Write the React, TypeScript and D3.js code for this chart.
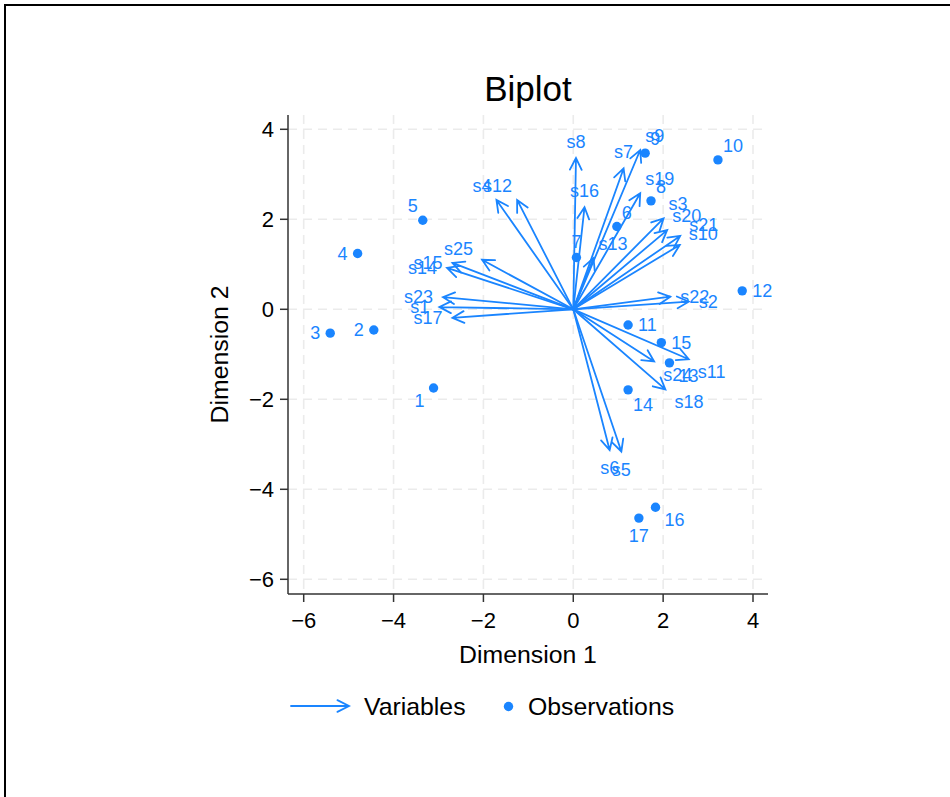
import React from "react";
import * as d3 from "d3";

// Observation scores (dimension 1, dimension 2)
const obsLabels = ["1", "2", "3", "4", "5", "6", "7", "8", "9", "10", "11", "12", "13", "14", "15", "16", "17"];
const obsX = [-3.11, -4.44, -5.41, -4.8, -3.35, 0.97, 0.07, 1.73, 1.6, 3.22, 1.22, 3.76, 2.14, 1.22, 1.96, 1.83, 1.46];
const obsY = [-1.75, -0.46, -0.53, 1.24, 1.98, 1.84, 1.15, 2.41, 3.47, 3.32, -0.35, 0.41, -1.19, -1.79, -0.74, -4.4, -4.64];

// Variable loadings (arrow tips)
const varNames = ["s1", "s2", "s3", "s4", "s5", "s6", "s7", "s8", "s9", "s10", "s11", "s12", "s13",
  "s14", "s15", "s16", "s17", "s18", "s19", "s20", "s21", "s22", "s23", "s24", "s25"];
const varX = [-2.98, 2.57, 2.01, -1.71, 1.07, 0.81, 1.12, 0.06, 1.49, 2.37, 2.57, -1.25, 0.45,
  -2.81, -2.69, 0.25, -2.69, 2.05, 1.49, 2.09, 2.38, 2.16, -2.9, 1.8, -2.03];
const varY = [0.05, 0.17, 2.02, 2.43, -3.16, -3.13, 3.13, 3.36, 3.54, 1.43, -1.11, 2.43, 1.14,
  0.92, 1.03, 2.27, -0.19, -1.78, 2.58, 1.76, 1.63, 0.28, 0.27, -1.16, 1.1];

const tickValues = [-6, -4, -2, 0, 2, 4];

// Clock positions of the marker labels
const obsLabelClock = [8, 9, 9, 9, 11, 1, 12, 1, 1, 1, 3, 3, 4, 5, 3, 4, 6];
const varLabelClock = [9, 3, 1, 11, 6, 6, 12, 12, 1, 2, 4, 11, 1, 9, 9, 12, 9, 4, 1, 1, 2, 3, 9, 4, 10];

const BLUE = "#1a85ff";
const FONT = "'Liberation Sans', Arial, Helvetica, sans-serif";

const clockOffsets: Record<number, [number, number, string]> = {
  12: [0, -16, "middle"],
  1: [5, -14, "start"],
  2: [9, -11, "start"],
  3: [10, 0, "start"],
  4: [9, 13, "start"],
  5: [5, 15, "start"],
  6: [0, 18, "middle"],
  7: [-5, 15, "end"],
  8: [-9, 13, "end"],
  9: [-10, 0, "end"],
  10: [-9, -11, "end"],
  11: [-5, -14, "end"],
};

function arrowPath(x0: number, y0: number, x1: number, y1: number, len = 13, half = 27) {
  const ang = Math.atan2(y1 - y0, x1 - x0);
  const h = (half * Math.PI) / 180;
  const ax = x1 - len * Math.cos(ang - h);
  const ay = y1 - len * Math.sin(ang - h);
  const bx = x1 - len * Math.cos(ang + h);
  const by = y1 - len * Math.sin(ang + h);
  return `M${x0},${y0}L${x1},${y1}M${ax},${ay}L${x1},${y1}L${bx},${by}`;
}

export default function App() {
  const left = 288;
  const right = 768;
  const top = 115;
  const bottom = 594;
  const x = d3.scaleLinear().domain([-6, 4]).range([303.7, 753]);
  const y = d3.scaleLinear().domain([-6, 4]).range([579.3, 129.3]);
  const ox = x(0);
  const oy = y(0);

  return (
    <svg
      width={950}
      height={797}
      style={{ position: "absolute", left: 0, top: 0, background: "#fff" }}
      fontFamily={FONT}
    >
      <rect x={0} y={0} width={950} height={797} fill="#fff" />
      {/* frame */}
      <line x1={4} x2={950} y1={5} y2={5} stroke="#000" strokeWidth={2} />
      <line x1={5} x2={5} y1={4} y2={797} stroke="#000" strokeWidth={2} />

      {/* grid */}
      <g stroke="#ebebeb" strokeWidth={1.6} strokeDasharray="9,6">
        {tickValues.map((t) => (
          <line key={"gx" + t} x1={x(t)} x2={x(t)} y1={top} y2={bottom} />
        ))}
        {tickValues.map((t) => (
          <line key={"gy" + t} x1={left} x2={right} y1={y(t)} y2={y(t)} />
        ))}
      </g>

      {/* axes */}
      <g stroke="#333" strokeWidth={1.5}>
        <line x1={left} x2={left} y1={top} y2={bottom} />
        <line x1={left} x2={right} y1={bottom} y2={bottom} />
        {tickValues.map((t) => (
          <line key={"tx" + t} x1={x(t)} x2={x(t)} y1={bottom} y2={bottom + 8} />
        ))}
        {tickValues.map((t) => (
          <line key={"ty" + t} x1={left - 8} x2={left} y1={y(t)} y2={y(t)} />
        ))}
      </g>
      <g fontSize={22} fill="#000">
        {tickValues.map((t) => (
          <text key={"lx" + t} x={x(t)} y={620} textAnchor="middle" dominantBaseline="central">
            {t < 0 ? "\u2212" + Math.abs(t) : String(t)}
          </text>
        ))}
        {tickValues.map((t) => (
          <text key={"ly" + t} x={left - 14} y={y(t)} textAnchor="end" dominantBaseline="central">
            {t < 0 ? "\u2212" + Math.abs(t) : String(t)}
          </text>
        ))}
      </g>
      <text x={(left + right) / 2} y={654} fontSize={24.8} textAnchor="middle" dominantBaseline="central">
        Dimension 1
      </text>
      <text
        transform={`translate(219, ${(top + bottom) / 2}) rotate(-90)`}
        fontSize={24.8}
        textAnchor="middle"
        dominantBaseline="central"
      >
        Dimension 2
      </text>
      <text x={(left + right) / 2} y={101} fontSize={35} textAnchor="middle">
        Biplot
      </text>

      {/* variable arrows */}
      <g stroke={BLUE} strokeWidth={1.8} fill="none" strokeLinejoin="miter" strokeLinecap="round">
        {varNames.map((n, i) => (
          <path key={n} d={arrowPath(ox, oy, x(varX[i]), y(varY[i]))} />
        ))}
      </g>
      <g fill={BLUE} fontSize={18}>
        {varNames.map((n, i) => {
          const [dx, dy, anchor] = clockOffsets[varLabelClock[i]];
          return (
            <text
              key={n}
              x={x(varX[i]) + dx}
              y={y(varY[i]) + dy}
              textAnchor={anchor}
              dominantBaseline="central"
            >
              {n}
            </text>
          );
        })}
      </g>

      {/* observations */}
      <g fill={BLUE}>
        {obsLabels.map((n, i) => (
          <circle key={n} cx={x(obsX[i])} cy={y(obsY[i])} r={4.7} />
        ))}
      </g>
      <g fill={BLUE} fontSize={18}>
        {obsLabels.map((n, i) => {
          const [dx, dy, anchor] = clockOffsets[obsLabelClock[i]];
          return (
            <text
              key={n}
              x={x(obsX[i]) + dx}
              y={y(obsY[i]) + dy}
              textAnchor={anchor}
              dominantBaseline="central"
            >
              {n}
            </text>
          );
        })}
      </g>

      {/* legend */}
      <path d={arrowPath(291, 706, 349, 706)} stroke={BLUE} strokeWidth={1.8} fill="none" strokeLinecap="round" />
      <text x={364} y={706} fontSize={24.8} dominantBaseline="central">
        Variables
      </text>
      <circle cx={508.5} cy={706.5} r={4.7} fill={BLUE} />
      <text x={528} y={706} fontSize={24.8} dominantBaseline="central">
        Observations
      </text>
    </svg>
  );
}
